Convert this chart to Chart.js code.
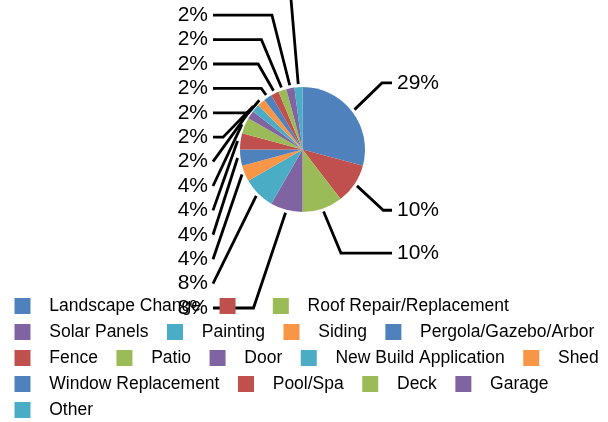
<!DOCTYPE html>
<html>
<head>
<meta charset="utf-8">
<script src="https://cdn.jsdelivr.net/npm/chart.js@4.4.0/dist/chart.umd.min.js"></script>
<style>
  html, body { margin: 0; padding: 0; background: #fff; overflow: hidden; }
  #wrap { width: 613px; height: 429px; position: relative; left: -4px; }
</style>
</head>
<body>
<div id="wrap"><canvas id="chart_1"></canvas></div>
<script>
// slices, clockwise from 12 o'clock (the second legend entry has no text)
const categories = ['Landscape Change', '', 'Roof Repair/Replacement', 'Solar Panels', 'Painting', 'Siding',
    'Pergola/Gazebo/Arbor', 'Fence', 'Patio', 'Door', 'New Build Application', 'Shed',
    'Window Replacement', 'Pool/Spa', 'Deck', 'Garage', 'Other'];
const counts = [14, 5, 5, 4, 4, 2, 2, 2, 2, 1, 1, 1, 1, 1, 1, 1, 1];
const palette = ['#4F81BD', '#C0504D', '#9BBB59', '#8064A2', '#4BACC6', '#F79646'];

const colors = categories.map((c, i) => palette[i % palette.length]);

// legend swatch: square with some space before it
function swatch(color) {
    let c = document.createElement('canvas');
    c.width = 36;
    c.height = 16;
    let ctx = c.getContext('2d');
    ctx.fillStyle = color;
    ctx.fillRect(10, 0, 16, 16);
    return c;
}
const swatches = colors.map(swatch);

// percentage labels with leader lines, Excel style
const pieLabels = {
    id: 'pieLabels',
    beforeDraw(chart) {
        const meta = chart.getDatasetMeta(0);
        const total = counts.reduce((a, b) => a + b, 0);
        const ctx = chart.ctx;
        ctx.save();
        ctx.font = '21px "Liberation Sans", Arial, sans-serif';
        ctx.fillStyle = '#000';
        ctx.strokeStyle = '#000';
        ctx.lineWidth = 2.8;
        ctx.textBaseline = 'middle';
        let leftIdx = 0;
        meta.data.forEach((arc, i) => {
            const mid = (arc.startAngle + arc.endAngle) / 2;
            const cos = Math.cos(mid), sin = Math.sin(mid);
            const r = arc.outerRadius;
            const px = arc.x + (r + 3) * cos;
            const py = arc.y + (r + 3) * sin;
            const text = Math.round(counts[i] / total * 100) + '%';
            let ax, ly, bx;
            if (cos > 0) {
                ax = arc.x + 89.5;
                ly = arc.y + 1.75 * r * sin;
                bx = Math.min(ax, px + Math.abs(py - ly) * Math.abs(cos) * 1.3);
                ctx.textAlign = 'left';
                ctx.fillText(text, ax + 5, ly);
            } else {
                ax = arc.x - 89.5;
                ly = arc.y + 158.5 - leftIdx * 24.4;
                leftIdx++;
                bx = Math.max(ax, px - Math.abs(py - ly) * Math.abs(cos) * 1.3);
                ctx.textAlign = 'right';
                ctx.fillText(text, ax - 5, ly);
            }
            ctx.beginPath();
            ctx.moveTo(ax, ly);
            ctx.lineTo(bx, ly);
            ctx.lineTo(px, py);
            ctx.stroke();
        });
        ctx.restore();
    }
};

new Chart('chart_1', {
    type: 'pie',
    data: {
        labels: categories,
        datasets: [{
            data: counts,
            backgroundColor: colors,
            borderWidth: 0,
            radius: 62.5,
        }],
    },
    options: {
        responsive: true,
        maintainAspectRatio: false,
        animation: false,
        layout: { padding: { top: 10, right: 0, left: 0, bottom: 0 } },
        plugins: {
            tooltip: { enabled: false },
            legend: {
                position: 'bottom',
                align: 'start',
                labels: {
                    usePointStyle: true,
                    pointStyleWidth: 36,
                    padding: 8.5,
                    color: '#000',
                    font: { family: '"Liberation Sans", Arial, sans-serif', size: 17.5 },
                    generateLabels: (chart) => categories.map((name, i) => ({
                        text: name,
                        fillStyle: colors[i],
                        strokeStyle: colors[i],
                        lineWidth: 0,
                        pointStyle: swatches[i],
                        hidden: false,
                        index: i,
                    })),
                },
            },
        },
    },
    plugins: [pieLabels],
});
</script>
</body>
</html>
